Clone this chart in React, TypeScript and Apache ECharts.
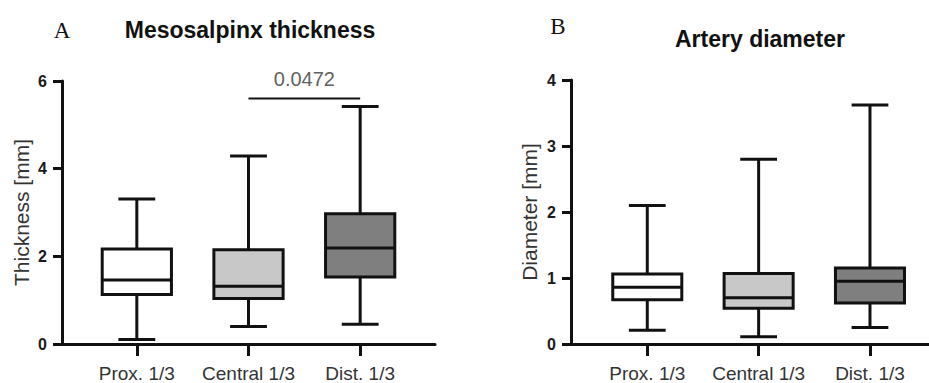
import React, { useEffect, useRef } from "react";
import * as echarts from "echarts";

// ---- data ----
const categories = ["Prox. 1/3", "Central 1/3", "Dist. 1/3"];
const boxFills = ["#ffffff", "#c8c8c8", "#7f7f7f"];

// Panel A: Mesosalpinx thickness [mm]
const thicknessMin = [0.1, 0.4, 0.45];
const thicknessQ1 = [1.13, 1.04, 1.53];
const thicknessMedian = [1.46, 1.32, 2.19];
const thicknessQ3 = [2.17, 2.15, 2.97];
const thicknessMax = [3.31, 4.29, 5.42];

// Panel B: Artery diameter [mm]
const diameterMin = [0.21, 0.11, 0.25];
const diameterQ1 = [0.67, 0.54, 0.62];
const diameterMedian = [0.86, 0.7, 0.95];
const diameterQ3 = [1.06, 1.07, 1.15];
const diameterMax = [2.1, 2.8, 3.62];

// significance bracket (panel A)
const sigFrom = 1;
const sigTo = 2;
const sigLevel = 5.6;
const sigLabel = "0.0472";

const yTicksA = [0, 2, 4, 6];
const yTicksB = [0, 1, 2, 3, 4];

// ---- styles ----
const INK = "#111111";
const FONT = "'Liberation Sans', Arial, sans-serif";
const BOX_FRAC = 0.62;
const CAP_FRAC = 0.33;
const LW = 3;

function buildData(mins: number[], q1: number[], med: number[], q3: number[], maxs: number[]) {
  return categories.map((_, i) => [i, mins[i], q1[i], med[i], q3[i], maxs[i]]);
}

function renderBox(params: any, api: any) {
  const x = api.value(0);
  const cy = (v: number) => api.coord([x, v])[1];
  const cx = api.coord([x, 0])[0];
  const yLo = cy(api.value(1));
  const yQ1 = cy(api.value(2));
  const yMed = cy(api.value(3));
  const yQ3 = cy(api.value(4));
  const yHi = cy(api.value(5));
  const band = api.size([1, 0])[0];
  const bw = band * BOX_FRAC;
  const cw = band * CAP_FRAC;
  const ls = { stroke: INK, lineWidth: LW };
  return {
    type: "group",
    children: [
      { type: "line", shape: { x1: cx, y1: yHi, x2: cx, y2: yQ3 }, style: ls },
      { type: "line", shape: { x1: cx, y1: yQ1, x2: cx, y2: yLo }, style: ls },
      { type: "line", shape: { x1: cx - cw / 2, y1: yHi, x2: cx + cw / 2, y2: yHi }, style: ls },
      { type: "line", shape: { x1: cx - cw / 2, y1: yLo, x2: cx + cw / 2, y2: yLo }, style: ls },
      {
        type: "rect",
        shape: { x: cx - bw / 2, y: yQ3, width: bw, height: yQ1 - yQ3 },
        style: { fill: boxFills[x], stroke: INK, lineWidth: LW, lineJoin: "miter" },
      },
      { type: "line", shape: { x1: cx - bw / 2, y1: yMed, x2: cx + bw / 2, y2: yMed }, style: ls },
    ],
  };
}

function xAxisCfg(gridIndex: number, min: number, max: number) {
  return {
    type: "value",
    gridIndex,
    min,
    max,
    axisLine: { show: true, onZero: false, lineStyle: { color: INK, width: LW } },
    axisTick: { show: true, length: 12, lineStyle: { color: INK, width: LW }, customValues: [0, 1, 2] },
    axisLabel: {
      show: true,
      customValues: [0, 1, 2],
      formatter: (v: number) => categories[Math.round(v)],
      fontFamily: FONT,
      fontSize: 19,
      color: "#333333",
      margin: 20,
    },
    splitLine: { show: false },
  };
}

function yAxisCfg(gridIndex: number, max: number, interval: number, name: string, nameGap: number) {
  return {
    type: "value",
    gridIndex,
    min: 0,
    max,
    interval,
    name,
    nameLocation: "middle",
    nameGap,
    nameTextStyle: { fontFamily: FONT, fontSize: 21, color: "#333333" },
    axisLine: { show: true, onZero: false, lineStyle: { color: INK, width: LW } },
    axisTick: { show: true, length: 9, lineStyle: { color: INK, width: LW } },
    axisLabel: { fontFamily: FONT, fontSize: 16, fontWeight: "bold", color: "#1a1a1a", margin: 15 },
    splitLine: { show: false },
  };
}

export default function App() {
  const ref = useRef<HTMLDivElement>(null);
  useEffect(() => {
    if (!ref.current) return;
    const chart = echarts.init(ref.current, undefined, { renderer: "svg" });
    const option: any = {
      animation: false,
      backgroundColor: "#ffffff",
      grid: [
        { left: 62, top: 81, width: 373, height: 265 },
        { left: 571, top: 80, width: 358, height: 266 },
      ],
      xAxis: [xAxisCfg(0, -0.67, 2.67), xAxisCfg(1, -0.685, 2.53)],
      yAxis: [
        yAxisCfg(0, yTicksA[yTicksA.length - 1], yTicksA[1] - yTicksA[0], "Thickness [mm]", 30),
        yAxisCfg(1, yTicksB[yTicksB.length - 1], yTicksB[1] - yTicksB[0], "Diameter [mm]", 31),
      ],
      series: [
        {
          type: "custom",
          xAxisIndex: 0,
          yAxisIndex: 0,
          renderItem: renderBox,
          encode: { x: 0, y: [1, 2, 3, 4, 5] },
          data: buildData(thicknessMin, thicknessQ1, thicknessMedian, thicknessQ3, thicknessMax),
          silent: true,
        },
        {
          type: "custom",
          xAxisIndex: 1,
          yAxisIndex: 1,
          renderItem: renderBox,
          encode: { x: 0, y: [1, 2, 3, 4, 5] },
          data: buildData(diameterMin, diameterQ1, diameterMedian, diameterQ3, diameterMax),
          silent: true,
        },
        {
          type: "line",
          xAxisIndex: 0,
          yAxisIndex: 0,
          data: [
            [sigFrom, sigLevel],
            [sigTo, sigLevel],
          ],
          symbol: "none",
          lineStyle: { color: INK, width: 2 },
          silent: true,
        },
        {
          type: "scatter",
          xAxisIndex: 0,
          yAxisIndex: 0,
          data: [[(sigFrom + sigTo) / 2, sigLevel]],
          symbolSize: 0,
          label: {
            show: true,
            position: "top",
            distance: 10,
            formatter: sigLabel,
            fontFamily: FONT,
            fontSize: 20,
            color: "#333333",
          },
          silent: true,
        },
      ],
      graphic: [
        {
          type: "text",
          x: 62,
          y: 30,
          style: { text: "A", font: "23px 'Liberation Serif', 'Times New Roman', serif", fill: "#111", align: "center", verticalAlign: "middle" },
        },
        {
          type: "text",
          x: 250,
          y: 30,
          style: { text: "Mesosalpinx thickness", font: `bold 23px ${FONT}`, fill: "#111", align: "center", verticalAlign: "middle" },
        },
        {
          type: "text",
          x: 558,
          y: 26,
          style: { text: "B", font: "23px 'Liberation Serif', 'Times New Roman', serif", fill: "#111", align: "center", verticalAlign: "middle" },
        },
        {
          type: "text",
          x: 760,
          y: 39,
          style: { text: "Artery diameter", font: `bold 23px ${FONT}`, fill: "#111", align: "center", verticalAlign: "middle" },
        },
      ],
    };
    chart.setOption(option);
    return () => chart.dispose();
  }, []);
  return (
    <div
      ref={ref}
      style={{ position: "absolute", left: 0, top: 0, width: 929, height: 383 }}
    />
  );
}
